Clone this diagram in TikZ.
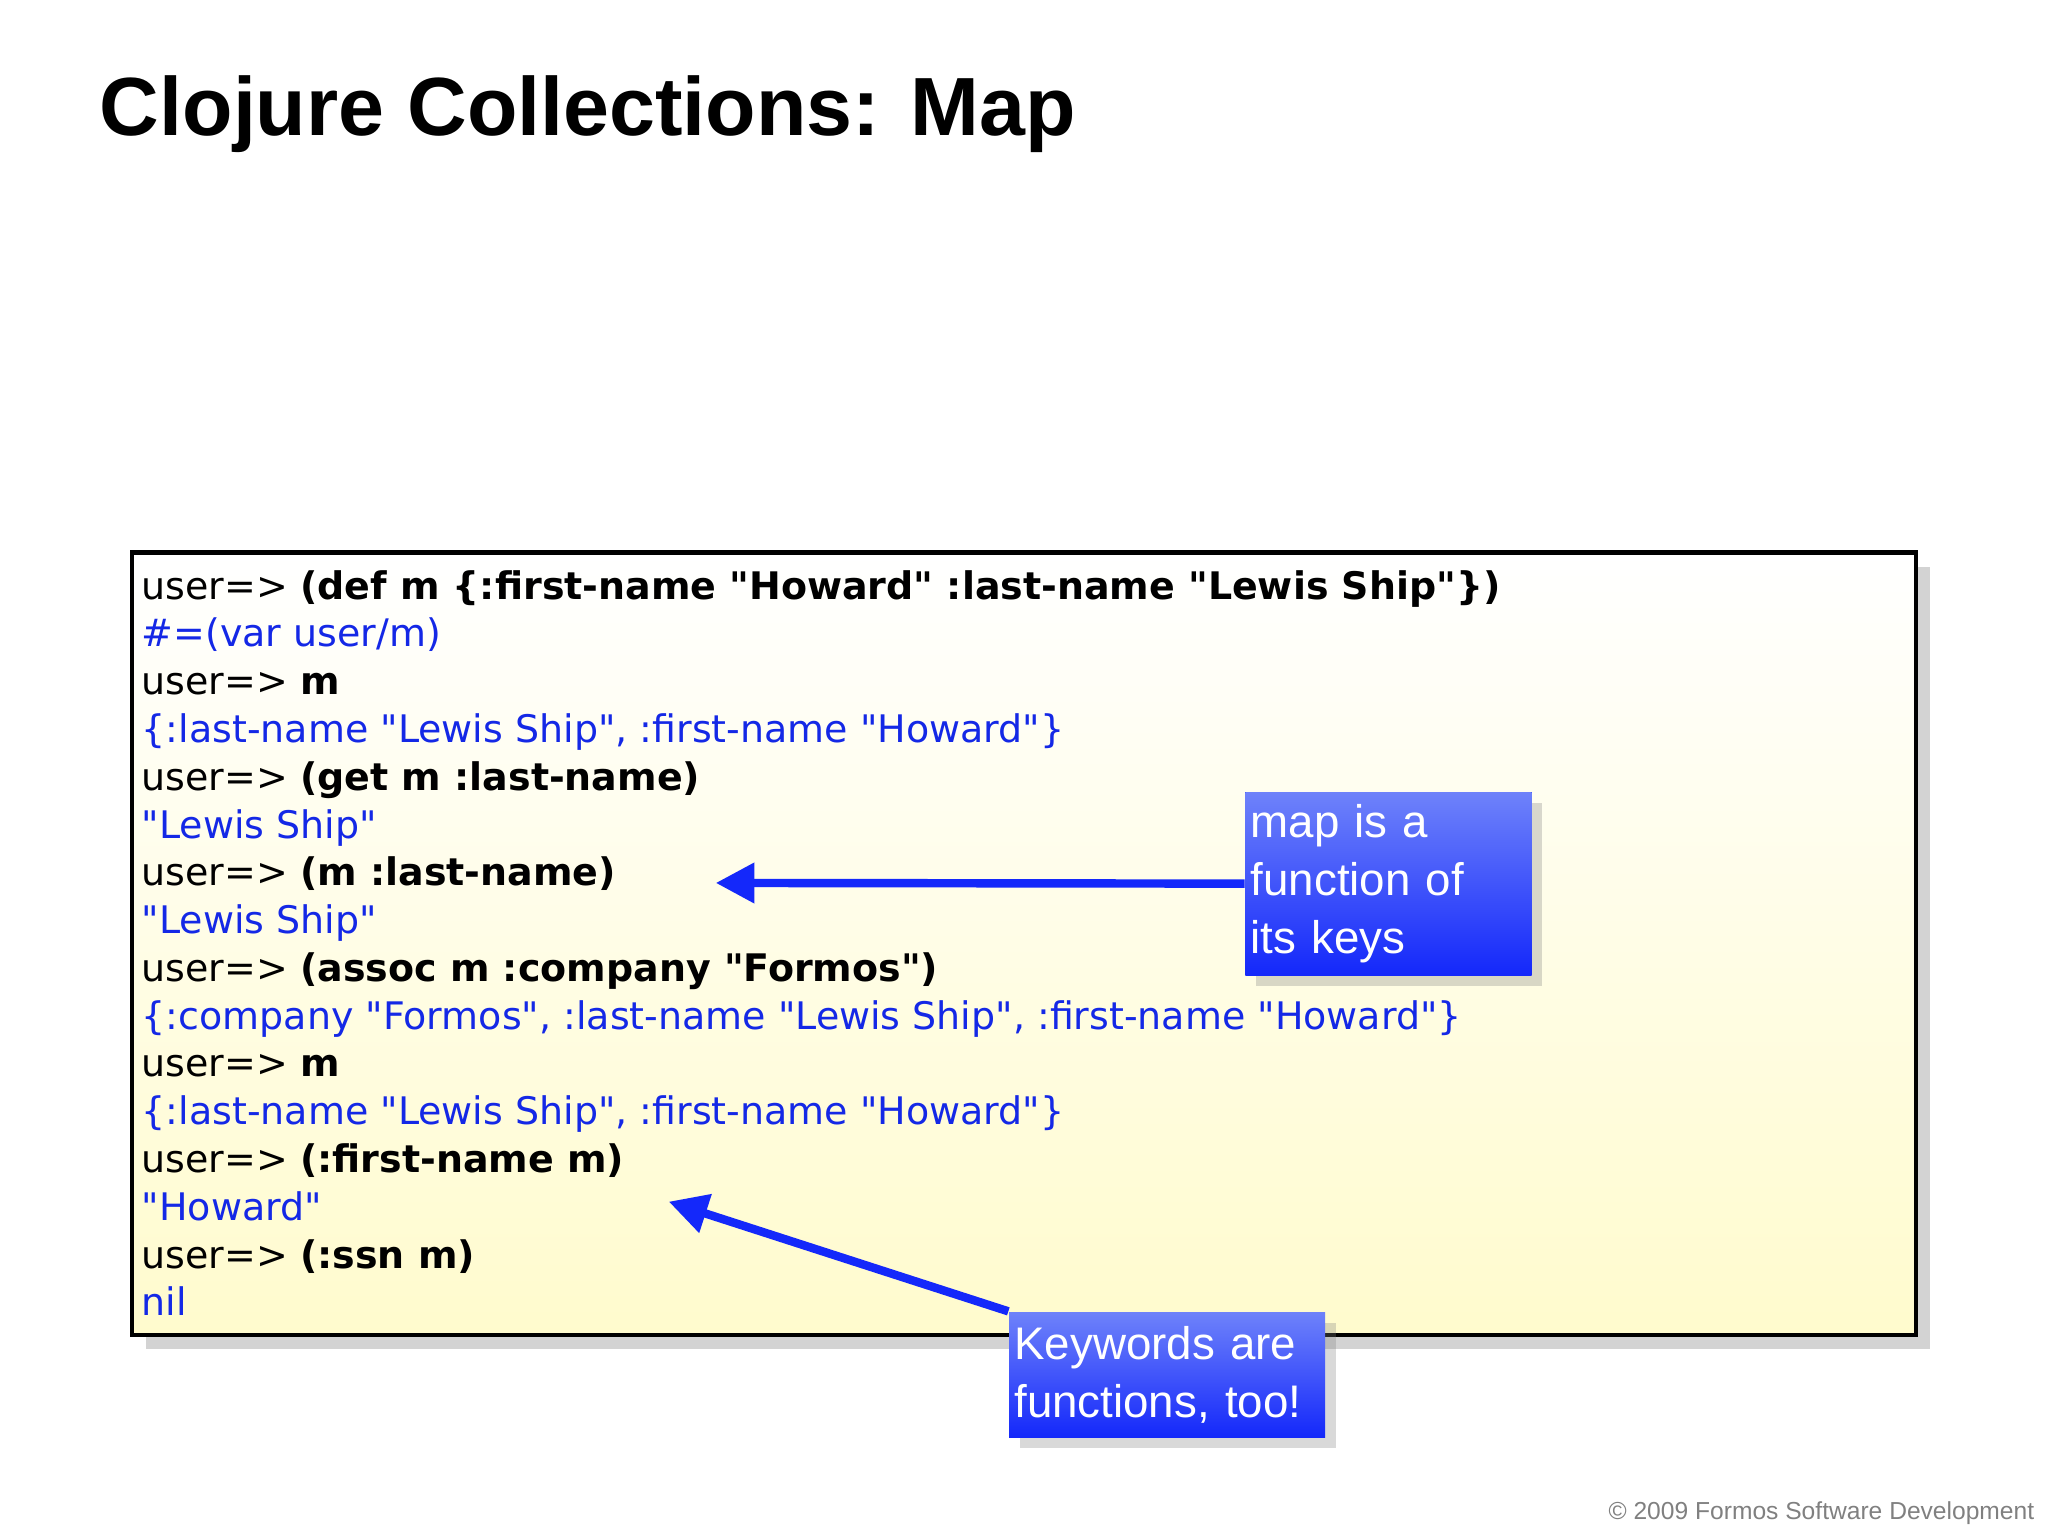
\documentclass[tikz,border=0pt]{standalone}
\usepackage{fontspec}
\setmainfont{Liberation Sans}
\newfontfamily\codefont{DejaVu Sans}
\usetikzlibrary{positioning,arrows.meta,shadows}
\definecolor{outblue}{RGB}{20,40,230}
\definecolor{calltop}{RGB}{110,130,250}
\definecolor{callbot}{RGB}{20,40,250}
\definecolor{paleyel}{RGB}{255,251,205}
\tikzset{
  callout/.style={fill=callbot,top color=calltop,bottom color=callbot,text=white,
    align=left,anchor=north west,inner xsep=1.5pt,inner ysep=3pt,text width=#1,
    font=\fontsize{13}{16.5}\selectfont,
    drop shadow={shadow xshift=3pt,shadow yshift=-3pt,opacity=.3}},
  pointer/.style={-{Triangle[length=11pt,width=11pt]},line width=2.4pt,callbot},
}
\newcommand{\usr}{user=> }
\newcommand{\res}[1]{\textcolor{outblue}{#1}}
\begin{document}
\begin{tikzpicture}[x=0.01306cm,y=-0.01306cm]
  \useasboundingbox (0,0) rectangle (1568,1176);
  % title
  \node[anchor=base west,inner sep=0pt,font=\fontsize{23.5}{26}\selectfont\bfseries] (title) at (76,104) {Clojure Collections: Map};
  % code box
  \draw[line width=1.3pt,top color=white,bottom color=paleyel,
    drop shadow={shadow xshift=4pt,shadow yshift=-4pt,opacity=.35}] (101,423) rectangle (1467,1022);
  \node[anchor=north west,align=left,inner sep=0pt,font=\codefont\fontsize{10.8}{13.6}\selectfont] (code) at (108,436) {%
    \usr\textbf{(def m \{:first-name "Howard" :last-name "Lewis Ship"\})}\\
    \res{\#=(var user/m)}\\
    \usr\textbf{m}\\
    \res{\{:last-name "Lewis Ship", :first-name "Howard"\}}\\
    \usr\textbf{(get m :last-name)}\\
    \res{"Lewis Ship"}\\
    \usr\textbf{(m :last-name)}\\
    \res{"Lewis Ship"}\\
    \usr\textbf{(assoc m :company "Formos")}\\
    \res{\{:company "Formos", :last-name "Lewis Ship", :first-name "Howard"\}}\\
    \usr\textbf{m}\\
    \res{\{:last-name "Lewis Ship", :first-name "Howard"\}}\\
    \usr\textbf{(:first-name m)}\\
    \res{"Howard"}\\
    \usr\textbf{(:ssn m)}\\
    \res{nil}};
  % callouts
  \coordinate (mapend) at (548,676);
  \coordinate (kwend) at (512,920);
  \node[callout=211*0.01306cm,minimum height=140*0.01306cm] (mapnote) at (953,606) {map is a\\function of\\its keys};
  \node[callout=234*0.01306cm,minimum height=96*0.01306cm] (kwnote) at (772,1004) {Keywords are\\functions, too!};
  \draw[pointer] (mapnote.west) -- (mapend);
  \draw[pointer] (kwnote.north west) -- (kwend);
  % footer
  \node[anchor=base east,inner sep=0pt,text=gray,font=\fontsize{7}{8}\selectfont] (copy) at (1558,1163) {© 2009 Formos Software Development};
\end{tikzpicture}
\end{document}
